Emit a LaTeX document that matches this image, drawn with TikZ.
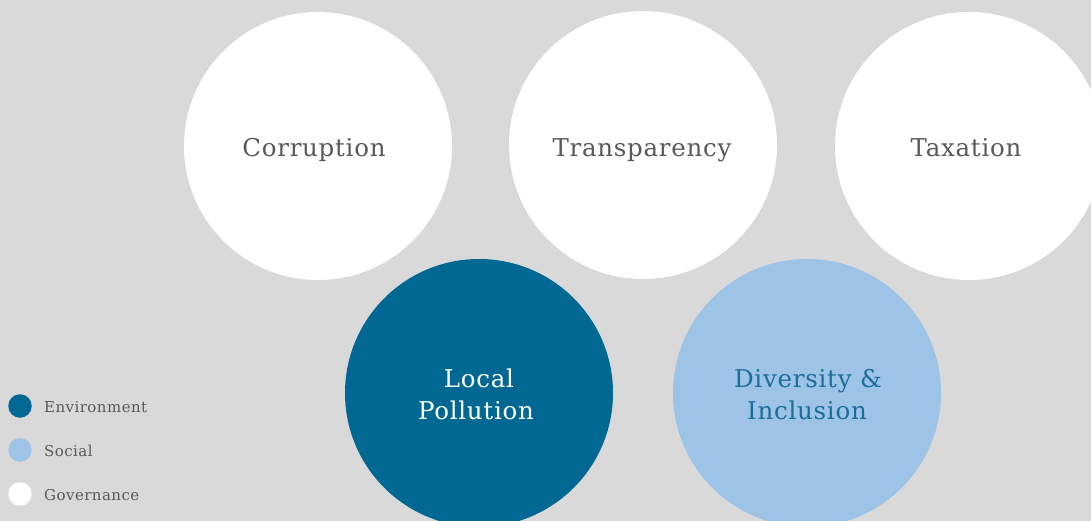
\documentclass[tikz,border=0pt]{standalone}
\usepackage{fontspec}
\setmainfont{DejaVu Serif}[LetterSpace=3]
\definecolor{bgray}{HTML}{D9D9D9}
\definecolor{envblue}{HTML}{006892}
\definecolor{socblue}{HTML}{9DC3E6}
\definecolor{txtgray}{HTML}{595959}
\definecolor{deepblue}{HTML}{1A6E98}
\begin{document}
\begin{tikzpicture}[x=1pt,y=-1pt,
  topic/.style={circle,minimum size=268pt,inner sep=0pt},
  label text/.style={anchor=base,inner sep=0pt,font=\fontsize{24.5}{30}\selectfont},
  dot/.style={circle,minimum size=23.5pt,inner sep=0pt},
  legtext/.style={anchor=base west,text=txtgray,inner sep=0pt,font=\fontsize{15}{18}\selectfont}]
\clip (0,0) rectangle (1091,521);
\fill[bgray] (0,0) rectangle (1091,521);
% topic circles
\node[topic,fill=white] (corr) at (318,146) {};
\node[topic,fill=white] (trans) at (643,145) {};
\node[topic,fill=white] (tax) at (969,146) {};
\node[topic,fill=envblue] (poll) at (479,393) {};
\node[topic,fill=socblue] (div) at (807,393) {};
% circle captions, set on fixed baselines
\node[label text,text=txtgray] (corrT) at (314,156.5) {Corruption};
\node[label text,text=txtgray] (transT) at (642,156.5) {Transparency};
\node[label text,text=txtgray] (taxT) at (966,156.5) {Taxation};
\node[label text,text=white] (pollA) at (479,387) {Local};
\node[label text,text=white] (pollB) at (476,419.5) {Pollution};
\node[label text,text=deepblue] (divA) at (808,387) {Diversity \&};
\node[label text,text=deepblue] (divB) at (807,419.5) {Inclusion};
% legend
\node[dot,fill=envblue] (l1) at (20,406) {};
\node[dot,fill=socblue] (l2) at (20,450) {};
\node[dot,fill=white] (l3) at (20,494) {};
\node[legtext] (t1) at (44,412) {Environment};
\node[legtext] (t2) at (44,456) {Social};
\node[legtext] (t3) at (44,500) {Governance};
\end{tikzpicture}
\end{document}
